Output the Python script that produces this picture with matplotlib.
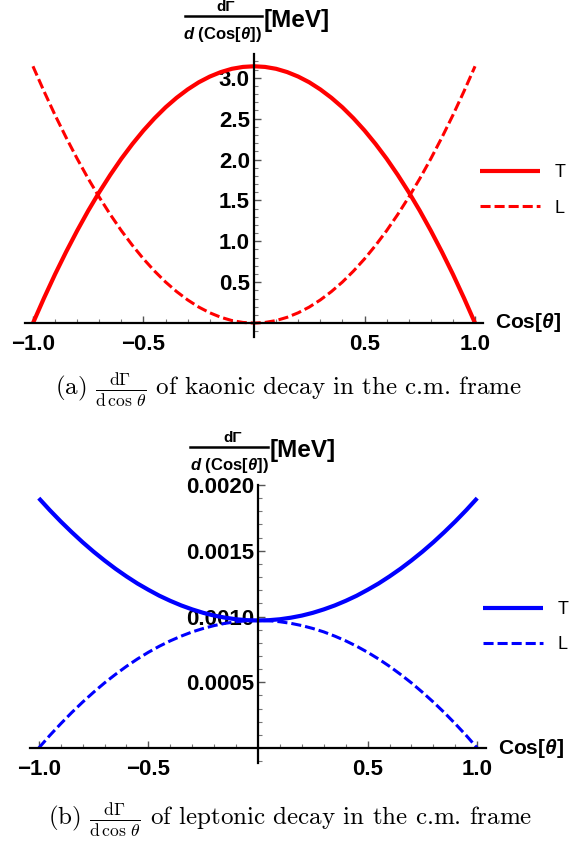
"""Angular distributions dGamma/dcos(theta) for kaonic and leptonic decays."""

import matplotlib

matplotlib.use("Agg")
import matplotlib.pyplot as plt
from matplotlib.ticker import FixedLocator, MultipleLocator

plt.rcParams["font.family"] = ["Liberation Sans", "DejaVu Sans"]
plt.rcParams["mathtext.fontset"] = "custom"
plt.rcParams["mathtext.it"] = "Liberation Sans:italic:bold"
plt.rcParams["mathtext.rm"] = "Liberation Sans:bold"

# cos(theta) sample points
cos_theta = [-1.00, -0.95, -0.90, -0.85, -0.80, -0.75, -0.70, -0.65, -0.60,
             -0.55, -0.50, -0.45, -0.40, -0.35, -0.30, -0.25, -0.20, -0.15,
             -0.10, -0.05, 0.00, 0.05, 0.10, 0.15, 0.20, 0.25, 0.30, 0.35,
             0.40, 0.45, 0.50, 0.55, 0.60, 0.65, 0.70, 0.75, 0.80, 0.85,
             0.90, 0.95, 1.00]

# (a) kaonic decay [MeV]
kaon_T = [0.000, 0.306, 0.597, 0.871, 1.130, 1.374, 1.601, 1.813, 2.010,
          2.190, 2.355, 2.504, 2.638, 2.755, 2.857, 2.944, 3.014, 3.069,
          3.109, 3.132, 3.140, 3.132, 3.109, 3.069, 3.014, 2.944, 2.857,
          2.755, 2.638, 2.504, 2.355, 2.190, 2.010, 1.813, 1.601, 1.374,
          1.130, 0.871, 0.597, 0.306, 0.000]
kaon_L = [3.140, 2.834, 2.543, 2.269, 2.010, 1.766, 1.539, 1.327, 1.130,
          0.950, 0.785, 0.636, 0.502, 0.385, 0.283, 0.196, 0.126, 0.071,
          0.031, 0.008, 0.000, 0.008, 0.031, 0.071, 0.126, 0.196, 0.283,
          0.385, 0.502, 0.636, 0.785, 0.950, 1.130, 1.327, 1.539, 1.766,
          2.010, 2.269, 2.543, 2.834, 3.140]

# (b) leptonic decay [MeV]
lep_T = [0.001900, 0.001809, 0.001723, 0.001642, 0.001565, 0.001493,
         0.001426, 0.001363, 0.001305, 0.001251, 0.001203, 0.001158,
         0.001119, 0.001084, 0.001054, 0.001028, 0.001007, 0.000991,
         0.000979, 0.000972, 0.000970, 0.000972, 0.000979, 0.000991,
         0.001007, 0.001028, 0.001054, 0.001084, 0.001119, 0.001158,
         0.001203, 0.001251, 0.001305, 0.001363, 0.001426, 0.001493,
         0.001565, 0.001642, 0.001723, 0.001809, 0.001900]
lep_L = [0.000000, 0.000095, 0.000184, 0.000269, 0.000349, 0.000424,
         0.000495, 0.000560, 0.000621, 0.000677, 0.000728, 0.000774,
         0.000815, 0.000851, 0.000883, 0.000909, 0.000931, 0.000948,
         0.000960, 0.000968, 0.000970, 0.000968, 0.000960, 0.000948,
         0.000931, 0.000909, 0.000883, 0.000851, 0.000815, 0.000774,
         0.000728, 0.000677, 0.000621, 0.000560, 0.000495, 0.000424,
         0.000349, 0.000269, 0.000184, 0.000095, 0.000000]

x_ticks = [-1.0, -0.5, 0.5, 1.0]
x_ticklabels = ["\u22121.0", "\u22120.5", "0.5", "1.0"]
kaon_yticks = [0.5, 1.0, 1.5, 2.0, 2.5, 3.0]
kaon_yticklabels = ["0.5", "1.0", "1.5", "2.0", "2.5", "3.0"]
lep_yticks = [0.0005, 0.0010, 0.0015, 0.0020]
lep_yticklabels = ["0.0005", "0.0010", "0.0015", "0.0020"]

captions = [
    r"(a) $\frac{\mathrm{d}\Gamma}{\mathrm{d}\,\cos\,\theta}$ of kaonic decay in the c.m. frame",
    r"(b) $\frac{\mathrm{d}\Gamma}{\mathrm{d}\,\cos\,\theta}$ of leptonic decay in the c.m. frame",
]

W, H = 571, 841


def px_box(left, right, top, bottom):
    return [left / W, 1 - bottom / H, (right - left) / W, (bottom - top) / H]


def style_axes(ax, yticks, yticklabels, yminor):
    for side in ("top", "right"):
        ax.spines[side].set_visible(False)
    ax.spines["left"].set_position(("data", 0))
    ax.spines["bottom"].set_position(("data", 0))
    for side in ("left", "bottom"):
        ax.spines[side].set_linewidth(1.6)
    ax.xaxis.set_major_locator(FixedLocator(x_ticks))
    ax.set_xticklabels(x_ticklabels)
    ax.xaxis.set_minor_locator(MultipleLocator(0.1))
    ax.yaxis.set_major_locator(FixedLocator(yticks))
    ax.set_yticklabels(yticklabels)
    ax.yaxis.set_minor_locator(MultipleLocator(yminor))
    ax.tick_params(which="major", direction="in", length=5, width=1.0,
                   labelsize=16, pad=3, color="#555555")
    ax.tick_params(axis="x", which="major", pad=8)
    ax.tick_params(which="minor", direction="in", length=3, width=0.8,
                   color="#777777")
    for lab in ax.get_xticklabels() + ax.get_yticklabels():
        lab.set_fontweight("bold")
    ax.set_facecolor("none")


def ylabel(fig, cx, bar_y, x0, x1):
    fig.text((cx + 4) / W, 1 - (bar_y - 9) / H, "d\u0393", ha="center",
             va="center", fontsize=11, fontweight="bold")
    fig.add_artist(plt.Line2D([x0 / W, x1 / W], [1 - bar_y / H] * 2,
                              color="black", lw=1.8))
    fig.text(cx / W, 1 - (bar_y + 19) / H, r"$d$ (Cos[$\theta$])", ha="center",
             va="center", fontsize=12, fontweight="bold")
    fig.text((x1 + 2) / W, 1 - (bar_y + 4) / H, "[MeV]", ha="left",
             va="center", fontsize=17.5, fontweight="bold")


def draw_panel(fig, box, T, L, color, xlim, ylim, yticks, yticklabels, yminor,
               leg_x, leg_y, xlab_x, xlab_y):
    ax = fig.add_axes(box)
    ax.plot(cos_theta, T, color=color, lw=3.0, solid_capstyle="butt", label="T")
    ax.plot(cos_theta, L, color=color, lw=2.2, dashes=(3.3, 1.3), label="L")
    ax.set_xlim(*xlim)
    ax.set_ylim(*ylim)
    style_axes(ax, yticks, yticklabels, yminor)
    ax.legend(loc="center left", bbox_to_anchor=(leg_x / W, 1 - leg_y / H),
              bbox_transform=fig.transFigure, frameon=False, fontsize=13,
              handlelength=3.3, handletextpad=0.8, labelspacing=1.0)
    fig.text(xlab_x / W, 1 - xlab_y / H, r"Cos[$\theta$]", ha="left",
             va="center", fontsize=15, fontweight="bold")
    return ax


fig = plt.figure(figsize=(W / 100, H / 100), dpi=100)

# (a) x: -1 -> 33 px, 0 -> 254 px ; y: 0 -> 323 px, 3.0 -> 78 px
draw_panel(fig, px_box(25, 483, 54, 337), kaon_T, kaon_L, "#ff0000",
           (-1.036, 1.036), (-0.17, 3.29), kaon_yticks, kaon_yticklabels, 0.1,
           464, 190.5, 495, 322)
ylabel(fig, 222, 16, 185, 262)
fig.text(288 / W, 1 - 390 / H, captions[0], ha="center", va="center",
         fontsize=18, family="cmr10", math_fontfamily="cm")

# (b) x: -1 -> 39 px, 0 -> 258 px ; y: 0 -> 748 px, 0.002 -> 485 px
draw_panel(fig, px_box(30, 486, 485, 763), lep_T, lep_L, "#0000ff",
           (-1.04, 1.04), (-0.000114, 0.0020), lep_yticks, lep_yticklabels,
           0.0001, 467, 627, 498, 748)
ylabel(fig, 229, 447, 190, 268)
fig.text(290 / W, 1 - 820 / H, captions[1], ha="center", va="center",
         fontsize=18, family="cmr10", math_fontfamily="cm")

fig.savefig("out.png", dpi=100)
